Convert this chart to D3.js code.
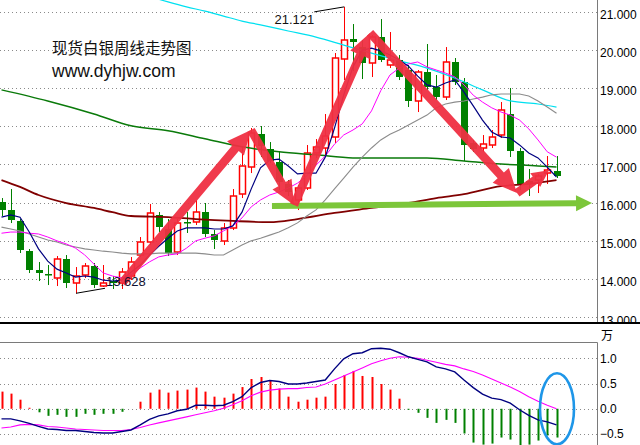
<!DOCTYPE html>
<html><head><meta charset="utf-8">
<script src="https://cdn.jsdelivr.net/npm/d3@7/dist/d3.min.js"></script>
<style>html,body{margin:0;padding:0;background:#fff;overflow:hidden}svg{display:block}</style>
</head><body>
<svg id="c" width="640" height="445"></svg>
<script>
// ---------- data (weekly candles, index 0..60) ----------
const openP=[16.016,15.806,15.519,14.734,14.237,14.132,14.028,14.525,13.897,14.106,
14.341,13.818,13.949,13.897,14.080,14.629,14.969,15.676,15.309,14.708,
15.492,15.492,15.754,15.179,14.995,15.336,16.225,16.931,17.795,17.402,
17.062,16.487,16.068,16.382,17.298,17.428,17.716,19.757,20.280,20.070,
19.652,20.332,19.600,19.730,19.469,18.658,19.416,19.024,18.762,19.678,
19.155,17.559,17.428,17.507,17.768,18.318,17.350,16.565,16.591,16.774,
16.827];
const highP=[16.120,16.356,15.571,14.786,14.446,14.368,14.603,14.629,14.315,14.420,
14.420,14.368,14.080,14.289,14.577,15.100,15.963,15.754,15.571,15.571,
15.754,16.068,15.990,15.283,15.466,16.356,17.481,17.952,18.004,17.585,
17.350,16.591,16.460,17.507,17.664,18.318,19.914,21.121,20.672,20.254,
20.384,20.803,20.463,19.861,19.600,19.469,20.149,19.338,20.070,19.783,
19.260,17.638,17.768,17.899,18.632,18.998,17.428,16.879,16.748,17.219,
17.219];
const lowP=[15.649,15.466,14.682,14.158,13.949,13.844,13.818,13.766,13.628,14.028,
13.766,13.792,13.740,13.740,13.975,14.577,14.891,15.231,14.603,14.629,
15.205,15.414,15.100,14.786,14.891,15.283,16.120,16.774,17.193,17.036,
16.330,16.173,15.806,16.330,17.167,17.193,17.559,19.207,19.443,19.233,
19.286,19.678,19.521,19.207,18.501,18.370,18.946,18.684,18.684,19.076,
17.088,17.324,17.324,17.428,17.690,17.193,16.330,16.173,16.251,16.487,
16.644];
const closeP=[15.806,15.545,14.760,14.237,14.158,14.106,14.525,13.897,14.080,14.341,
13.844,13.897,13.897,14.184,14.446,14.969,15.728,15.362,14.682,15.466,
15.466,15.754,15.179,15.022,15.336,16.173,16.957,17.821,17.481,17.088,
16.539,16.277,16.382,17.298,17.454,17.742,19.783,20.254,20.201,19.652,
20.332,19.730,19.730,19.286,18.658,19.416,19.024,18.762,19.678,19.155,
17.507,17.402,17.533,17.716,18.422,17.350,16.487,16.513,16.696,16.853,
16.696];
const ma5=[15.62,15.68,15.62,15.23,14.79,14.47,14.26,14.16,14.05,14.08,
14.05,13.97,13.95,13.97,14.18,14.37,14.63,14.86,15.07,15.26,
15.34,15.34,15.34,15.31,15.31,15.39,15.75,16.36,16.91,17.11,
17.14,16.96,16.75,16.77,16.77,17.19,17.95,18.82,19.55,19.99,
20.04,19.97,19.86,19.73,19.57,19.31,19.08,19.02,19.13,19.21,
18.89,18.53,18.16,17.85,17.72,17.69,17.51,17.30,17.17,16.93,
16.67];
const ma10=[15.20,15.23,15.23,15.20,15.18,15.10,15.00,14.92,14.81,14.63,
14.39,14.16,14.08,14.03,14.11,14.29,14.45,14.58,14.63,14.66,
14.81,15.00,15.07,15.13,15.26,15.39,15.60,15.89,16.07,16.20,
16.28,16.38,16.51,16.70,16.98,17.22,17.53,17.77,17.90,18.06,
18.40,18.93,19.34,19.52,19.63,19.68,19.55,19.47,19.39,19.29,
19.08,18.81,18.63,18.48,18.37,18.29,18.16,17.93,17.64,17.33,
17.19];
const ma20=[15.36,15.31,15.26,15.18,15.10,15.02,14.97,14.89,14.84,14.79,
14.76,14.73,14.71,14.68,14.66,14.66,14.66,14.68,14.68,14.68,
14.68,14.68,14.66,14.63,14.63,14.76,14.89,15.00,15.07,15.15,
15.23,15.34,15.47,15.65,15.81,16.07,16.36,16.64,16.93,17.19,
17.43,17.64,17.79,17.90,18.03,18.16,18.29,18.48,18.58,18.63,
18.66,18.71,18.76,18.82,18.84,18.84,18.84,18.79,18.66,18.50,
18.34];
const ma60=[[0,18.95],[5,18.66],[10,18.32],[14,18.01],[18,17.88],[22,17.67],[26,17.46],[30,17.33],
[34,17.25],[38,17.17],[42,17.17],[46,17.17],[50,17.09],[54,17.01],[58,16.96],[60,16.93]];
const ma120=[[0,16.59],[2,16.41],[4,16.20],[7,15.99],[10,15.86],[12,15.75],[14,15.65],[18,15.62],
[21,15.57],[25,15.52],[29,15.49],[32,15.57],[36,15.73],[40,15.86],[44,15.99],[47,16.12],
[50,16.22],[54,16.43],[57,16.49],[60,16.59]];
const ma250=[[17,21.32],[18,21.25],[20,21.12],[22,21.01],[24,20.88],[26,20.75],[28,20.65],[31,20.49],
[34,20.33],[37,20.12],[40,19.91],[43,19.71],[46,19.52],[49,19.26],[52,18.95],[55,18.66],
[58,18.58],[60,18.50]];
const macdHist=[0.34,0.30,0.18,0.02,-0.07,-0.14,-0.12,-0.16,-0.16,-0.10,
-0.12,-0.10,-0.10,-0.06,0.00,0.14,0.32,0.38,0.32,0.36,
0.38,0.42,0.34,0.24,0.22,0.30,0.43,0.59,0.63,0.57,
0.40,0.24,0.14,0.18,0.22,0.24,0.49,0.67,0.75,0.65,
0.63,0.49,0.38,0.20,-0.02,-0.08,-0.18,-0.28,-0.22,-0.28,
-0.49,-0.67,-0.71,-0.69,-0.57,-0.61,-0.73,-0.71,-0.63,-0.53,
-0.57];
const macdDif=[-0.20,-0.20,-0.24,-0.29,-0.35,-0.40,-0.41,-0.43,-0.43,-0.45,
-0.47,-0.48,-0.48,-0.45,-0.42,-0.32,-0.21,-0.14,-0.10,-0.04,
-0.01,0.07,0.07,0.06,0.07,0.14,0.24,0.42,0.52,0.56,
0.54,0.49,0.49,0.51,0.54,0.57,0.79,0.99,1.09,1.11,
1.19,1.20,1.18,1.11,1.03,0.98,0.93,0.83,0.79,0.73,
0.57,0.42,0.29,0.21,0.18,0.11,-0.02,-0.13,-0.22,-0.26,
-0.32];
const macdDea=[-0.38,-0.36,-0.32,-0.31,-0.32,-0.35,-0.36,-0.38,-0.40,-0.41,
-0.42,-0.43,-0.43,-0.43,-0.41,-0.37,-0.32,-0.28,-0.24,-0.20,
-0.16,-0.12,-0.08,-0.04,0.01,0.08,0.16,0.26,0.33,0.37,
0.39,0.40,0.40,0.42,0.43,0.49,0.57,0.65,0.73,0.81,
0.89,0.95,1.00,1.03,1.02,1.00,0.96,0.92,0.88,0.85,
0.79,0.74,0.67,0.59,0.51,0.43,0.34,0.24,0.15,0.07,
0.00];
const priceTicks=[21,20,19,18,17,16,15,14,13];
const macdTicks=[1.0,0.5,0.0,-0.5];
const macdUnit="万";
const titleText="现货白银周线走势图";
const siteText="www.dyhjw.com";
const highMark={i:37,value:21.121};
const lowMark={i:8,value:13.628};
const trendArrows=[[13.03,13.90],[26.97,17.90],[31.62,15.94],[39.84,20.44],[55.73,16.25],[59.19,16.85]];
const supportArrow=[[29.24,15.91],[63.84,15.99]];
const circledIndex=60;

// ---------- drawing ----------
const svg=d3.select("#c");
const axisX=597.5;
const x=d3.scaleLinear().domain([0,60]).range([1.5,556.5]);
const y=d3.scaleLinear().domain([13,21]).range([317.3,11.5]);
const ym=d3.scaleLinear().domain([-0.5,1]).range([434,358.3]);

const defs=svg.append("defs");
defs.append("clipPath").attr("id","cp").append("rect").attr("x",0).attr("y",0).attr("width",597).attr("height",322);
defs.append("clipPath").attr("id","cm").append("rect").attr("x",0).attr("y",343).attr("width",597).attr("height",102);
defs.append("clipPath").attr("id","ca").append("rect").attr("x",597).attr("y",0).attr("width",43).attr("height",322);

const px=i=>Math.round(x(i))+0.5;

// grid
const gP=svg.append("g");
gP.selectAll("line").data(priceTicks).join("line")
  .attr("x1",0).attr("x2",597).attr("y1",d=>Math.round(y(d))+0.5).attr("y2",d=>Math.round(y(d))+0.5)
  .attr("stroke","#8a8a8a").attr("stroke-dasharray","1,3");
const gM=svg.append("g");
gM.selectAll("line").data(macdTicks).join("line")
  .attr("x1",0).attr("x2",597).attr("y1",d=>Math.round(ym(d))+0.5).attr("y2",d=>Math.round(ym(d))+0.5)
  .attr("stroke","#8a8a8a").attr("stroke-dasharray","1,3");

// price panel
const pp=svg.append("g").attr("clip-path","url(#cp)");
const idx=d3.range(openP.length);
const candles=pp.append("g");
idx.forEach(i=>{
  const o=openP[i],c=closeP[i],h=highP[i],l=lowP[i];
  const up=c>=o;
  const cx=px(i);
  const top=Math.round(y(Math.max(o,c))), bot=Math.round(y(Math.min(o,c)));
  if(up){
    const col="#ff0000";
    candles.append("line").attr("x1",cx).attr("x2",cx).attr("y1",y(h)).attr("y2",top).attr("stroke",col);
    candles.append("line").attr("x1",cx).attr("x2",cx).attr("y1",bot).attr("y2",y(l)).attr("stroke",col);
    candles.append("rect").attr("x",cx-3).attr("y",top).attr("width",6).attr("height",Math.max(1,bot-top))
      .attr("fill","#fff").attr("stroke",col).attr("stroke-width",1.5);
  } else {
    const col="#008000";
    candles.append("line").attr("x1",cx).attr("x2",cx).attr("y1",y(h)).attr("y2",y(l)).attr("stroke",col);
    candles.append("rect").attr("x",cx-3.5).attr("y",top).attr("width",7).attr("height",Math.max(1.5,bot-top))
      .attr("fill",col);
  }
});

const lineIdx=d3.line().x((d,i)=>x(i)).y(d=>y(d));
const linePair=d3.line().x(d=>x(d[0])).y(d=>y(d[1])).curve(d3.curveMonotoneX);
pp.append("path").attr("d",linePair(ma120)).attr("fill","none").attr("stroke","#800000").attr("stroke-width",1.8);
pp.append("path").attr("d",linePair(ma60)).attr("fill","none").attr("stroke","#0a7a0a").attr("stroke-width",1.5);
pp.append("path").attr("d",linePair(ma250)).attr("fill","none").attr("stroke","#00e0f0").attr("stroke-width",1.2);
pp.append("path").attr("d",lineIdx(ma20)).attr("fill","none").attr("stroke","#8c8c8c").attr("stroke-width",1.1);
pp.append("path").attr("d",lineIdx(ma10)).attr("fill","none").attr("stroke","#ff00ff").attr("stroke-width",1);
pp.append("path").attr("d",lineIdx(ma5)).attr("fill","none").attr("stroke","#000080").attr("stroke-width",1.2);

// high / low marks
const hx=x(highMark.i)+0.5, hy=y(highMark.value);
pp.append("line").attr("x1",hx).attr("y1",hy).attr("x2",hx-30).attr("y2",hy+5).attr("stroke","#000");
pp.append("text").attr("x",hx-30).attr("y",hy+17).attr("text-anchor","end")
  .attr("font-family","Liberation Sans, Arial, sans-serif").attr("font-size",13).attr("fill","#111").text(highMark.value.toFixed(3));
const lx=x(lowMark.i)+0.5, ly=y(lowMark.value);
pp.append("line").attr("x1",lx).attr("y1",ly).attr("x2",lx+29).attr("y2",ly-5).attr("stroke","#000");

// arrows
function arrowPts(x0,y0,x1,y1,w,hl,hw){
  const dx=x1-x0,dy=y1-y0,L=Math.hypot(dx,dy),ux=dx/L,uy=dy/L,nx=-uy,ny=ux;
  const bx=x1-ux*hl,by=y1-uy*hl;
  return [[x0+nx*w/2,y0+ny*w/2],[bx+nx*w/2,by+ny*w/2],[bx+nx*hw/2,by+ny*hw/2],[x1,y1],
          [bx-nx*hw/2,by-ny*hw/2],[bx-nx*w/2,by-ny*w/2],[x0-nx*w/2,y0-ny*w/2]];
}
const polyPath=pts=>"M"+pts.map(p=>p.join(",")).join("L")+"Z";
const sa=supportArrow;
pp.append("path").attr("d",polyPath(arrowPts(x(sa[0][0]),y(sa[0][1]),x(sa[1][0]),y(sa[1][1]),6,16,16)))
  .attr("fill","#7cc63a");
const ag=pp.append("g");
for(let k=0;k<trendArrows.length-1;k++){
  const a=trendArrows[k],b=trendArrows[k+1];
  const short=k===trendArrows.length-2;
  ag.append("path").attr("d",polyPath(arrowPts(x(a[0]),y(a[1]),x(b[0]),y(b[1]),8.5,short?17:24,short?17:22)))
    .attr("fill","#ef2f42").attr("fill-opacity",0.95);
}
pp.append("text").attr("x",lx+30).attr("y",ly-7)
  .attr("font-family","Liberation Sans, Arial, sans-serif").attr("font-size",13).attr("fill","#101030").text(lowMark.value.toFixed(3));

// title
svg.append("text").attr("x",52).attr("y",54).attr("font-family","Noto Sans CJK SC").attr("font-size",15.5)
  .attr("fill","#111").text(titleText);
svg.append("text").attr("x",52).attr("y",77).attr("font-family","Liberation Sans, Arial, sans-serif").attr("font-size",17.5)
  .attr("fill","#111").text(siteText);

// price axis
const axOuter=svg.append("g").attr("clip-path","url(#ca)");
const ax=axOuter.append("g").attr("transform",`translate(${axisX},0)`)
  .call(d3.axisRight(y).tickValues(priceTicks).tickFormat(d3.format(".3f")).tickSize(0).tickPadding(2.5));
ax.select(".domain").remove();
ax.selectAll("text").attr("dy","0.32em").attr("y",3).attr("font-family","Liberation Sans, Arial, sans-serif")
  .attr("font-size",12).attr("fill","#000");
svg.append("line").attr("x1",axisX).attr("x2",axisX).attr("y1",0).attr("y2",322).attr("stroke","#7a7a7a");

// MACD panel
const mp=svg.append("g").attr("clip-path","url(#cm)");
mp.selectAll("line.h").data(idx).join("line").attr("class","h")
  .attr("x1",i=>Math.round(x(i))+0.5).attr("x2",i=>Math.round(x(i))+0.5)
  .attr("y1",ym(0)).attr("y2",i=>ym(macdHist[i]))
  .attr("stroke",i=>macdHist[i]>=0?"#ff0000":"#008000").attr("stroke-width",2);
const lm=d3.line().x((d,i)=>x(i)).y(d=>ym(d));
mp.append("path").attr("d",lm(macdDea)).attr("fill","none").attr("stroke","#ff00ff").attr("stroke-width",1.1);
mp.append("path").attr("d",lm(macdDif)).attr("fill","none").attr("stroke","#000080").attr("stroke-width",1.4);
svg.append("ellipse").attr("cx",x(circledIndex)+0.5).attr("cy",ym(0)).attr("rx",17).attr("ry",35.5)
  .attr("fill","none").attr("stroke","#1e96e8").attr("stroke-width",2.6);

const axm=svg.append("g").attr("transform",`translate(${axisX},0)`)
  .call(d3.axisRight(ym).tickValues(macdTicks).tickFormat(d3.format(".1f")).tickSize(0).tickPadding(2.5));
axm.select(".domain").remove();
axm.selectAll("text").attr("dy","0.32em").attr("y",0).attr("font-family","Liberation Sans, Arial, sans-serif")
  .attr("font-size",12).attr("fill","#000");
svg.append("line").attr("x1",0).attr("x2",axisX).attr("y1",342.5).attr("y2",342.5).attr("stroke","#7a7a7a");
svg.append("line").attr("x1",axisX).attr("x2",axisX).attr("y1",342.5).attr("y2",445).attr("stroke","#7a7a7a");
svg.append("text").attr("x",601).attr("y",340).attr("font-family","Noto Sans CJK SC").attr("font-size",12)
  .attr("fill","#000").text(macdUnit);

// separator
svg.append("rect").attr("x",0).attr("y",322).attr("width",640).attr("height",2).attr("fill","#000");
</script>
</body></html>
